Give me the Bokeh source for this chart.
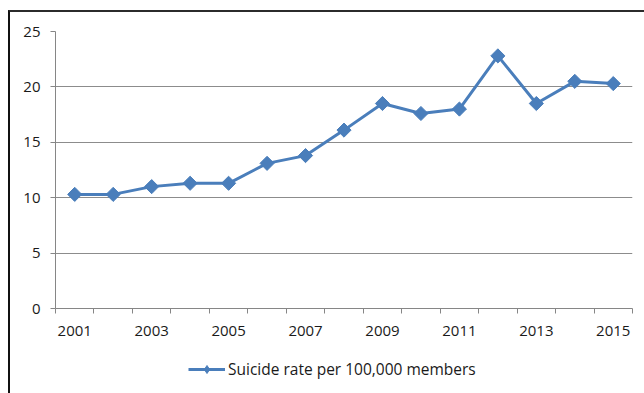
import math
from bokeh.plotting import figure
from bokeh.layouts import column
from bokeh.models import FixedTicker, Range1d, Legend, LegendItem
from bokeh.embed import file_html
from bokeh.resources import INLINE

years = [2001, 2002, 2003, 2004, 2005, 2006, 2007, 2008, 2009, 2010, 2011, 2012, 2013, 2014, 2015]
rates = [10.3, 10.3, 11.0, 11.3, 11.3, 13.1, 13.8, 16.1, 18.5, 17.6, 18.0, 22.8, 18.5, 20.5, 20.3]
x_tick_labels = [2001, 2003, 2005, 2007, 2009, 2011, 2013, 2015]
y_ticks = [0, 5, 10, 15, 20, 25]
series_name = "Suicide rate per 100,000 members"

FONT = "Open Sans"
BLUE = "#4a7ebb"

p = figure(
    width=634, height=338,
    output_backend="svg", toolbar_location=None,
    x_range=Range1d(2000.5, 2015.5), y_range=Range1d(0, 25),
    min_border_left=45, min_border_right=12, min_border_top=19, min_border_bottom=42,
)
p.outline_line_color = None
p.background_fill_color = "white"
p.border_fill_color = "white"

line_r = p.line(years, rates, line_color=BLUE, line_width=3)
mark_r = p.scatter(years, rates, marker="square", angle=math.pi / 4, size=10,
                   fill_color=BLUE, line_color=BLUE, line_width=1)

# x axis
p.xaxis.ticker = FixedTicker(ticks=x_tick_labels, minor_ticks=[y - 0.5 for y in years] + [2015.5])
p.xaxis.major_tick_line_color = None
p.xaxis.major_tick_out = 0
p.xaxis.major_tick_in = 0
p.xaxis.minor_tick_out = 5
p.xaxis.minor_tick_in = 0
p.xaxis.minor_tick_line_color = "#868686"
p.xaxis.axis_line_color = "#868686"
p.xaxis.major_label_standoff = 12
p.xaxis.major_label_text_font = FONT
p.xaxis.major_label_text_font_size = "15px"
p.xaxis.major_label_text_color = "#1a1a1a"

# y axis
p.yaxis.ticker = FixedTicker(ticks=y_ticks, minor_ticks=[])
p.yaxis.major_tick_out = 5
p.yaxis.major_tick_in = 0
p.yaxis.major_tick_line_color = "#868686"
p.yaxis.axis_line_color = "#868686"
p.yaxis.major_label_standoff = 10
p.yaxis.major_label_text_font = FONT
p.yaxis.major_label_text_font_size = "15px"
p.yaxis.major_label_text_color = "#1a1a1a"

p.xgrid.grid_line_color = None
p.ygrid.grid_line_color = "#8c8c8c"
p.ygrid.grid_line_width = 1

# legend strip below the chart (its sample glyphs sit outside the visible range)
lg = figure(
    width=634, height=43,
    output_backend="svg", toolbar_location=None,
    x_range=Range1d(0, 1), y_range=Range1d(0, 1),
    x_axis_location=None, y_axis_location=None,
    min_border=0,
)
lg.grid.visible = False
lg.outline_line_color = None
lg.background_fill_color = "white"
lg.border_fill_color = "white"
lg_line = lg.line([5, 6], [5, 5], line_color=BLUE, line_width=3)
lg_mark = lg.scatter([5], [5], marker="diamond", size=11, fill_color=BLUE, line_color=BLUE)

legend = Legend(
    items=[LegendItem(label=series_name, renderers=[lg_line, lg_mark])],
    orientation="horizontal",
    location=(133, 13),
    border_line_color=None,
    background_fill_alpha=0,
    label_text_font=FONT,
    label_text_font_size="15.5px",
    label_text_color="#1a1a1a",
    glyph_width=37,
    label_standoff=3,
    padding=0,
    margin=0,
)
lg.add_layout(legend, "center")

layout = column(
    p, lg,
    margin=(10, 0, 0, 8),
    styles={"border-top": "2px solid #2b2b2b", "border-left": "2px solid #111111"},
)

open("out.html", "w").write(file_html(layout, INLINE))
